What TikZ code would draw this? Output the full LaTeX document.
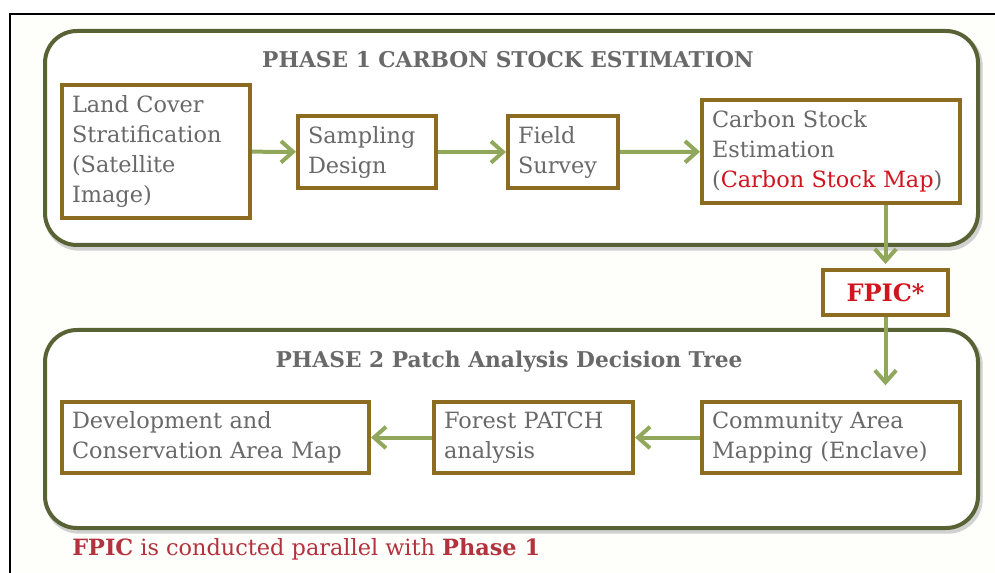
\documentclass[tikz,border=0pt]{standalone}
\usepackage{fontspec}
\setmainfont{DejaVu Serif}
\usetikzlibrary{arrows.meta}
\definecolor{boxbrd}{RGB}{140,108,32}
\definecolor{phasebrd}{RGB}{88,98,52}
\definecolor{arrowgr}{RGB}{145,168,92}
\definecolor{txtgray}{RGB}{105,105,105}
\definecolor{fpicred}{RGB}{210,20,30}
\definecolor{footred}{RGB}{178,50,62}
\definecolor{bgcream}{RGB}{254,254,250}
\begin{document}
\begin{tikzpicture}[x=0.75pt,y=-0.75pt,
  stepbox/.style={draw=boxbrd,line width=3pt,fill=white,text=txtgray,
    font=\fontsize{16.8}{22.5}\selectfont,align=left,inner xsep=7pt,inner ysep=0pt,
    anchor=center},
  phasebox/.style={draw=phasebrd,line width=3pt,rounded corners=24pt},
  flow/.style={draw=arrowgr,line width=3pt,-{Straight Barb[length=9pt,width=16pt,line width=3pt]}},
  ttl/.style={text=txtgray,font=\fontsize{16.3}{19}\selectfont\bfseries,anchor=base}
]
\useasboundingbox (0,0) rectangle (995,573);
\fill[white] (0,0) rectangle (995,573);
\fill[bgcream] (10,14) rectangle (995,573);
% frame
\draw[line width=2.2pt,black] (10,573) -- (10,14) -- (995,14);
% shadows
\draw[black!18,line width=4pt,rounded corners=24pt] (47,34) rectangle (980,248);
\draw[black!18,line width=4pt,rounded corners=24pt] (47,333) rectangle (980,531);
% phase boxes
\draw[phasebox,fill=white] (45,31) rectangle (978,245);
\draw[phasebox,fill=white] (45,330) rectangle (978,528);
\node[ttl] (t1) at (508,68) {PHASE 1 CARBON STOCK ESTIMATION};
\node[ttl] (t2) at (509,367) {PHASE 2 Patch Analysis Decision Tree};
% phase 1 nodes
\node[stepbox,minimum width=141pt,minimum height=99.75pt,text width=126pt] (b1) at (156,151.5)
  {Land Cover\\Stratification\\(Satellite\\Image)};
\node[stepbox,minimum width=103.5pt,minimum height=54pt,text width=88.5pt] (b2) at (367,152)
  {Sampling\\Design};
\node[stepbox,minimum width=82.5pt,minimum height=54pt,text width=67.5pt] (b3) at (563,152)
  {Field\\Survey};
\node[stepbox,minimum width=193.5pt,minimum height=77.25pt,text width=178.5pt] (b4) at (831,151.5)
  {Carbon Stock\\Estimation\\(\textcolor{fpicred}{Carbon Stock Map})};
% FPIC
\node[stepbox,minimum width=93.75pt,minimum height=33.75pt,text width=78.75pt,align=center,
  text=fpicred,font=\fontsize{18}{20}\selectfont\bfseries] (fpic) at (885.5,292.5) {FPIC*};
% phase 2 nodes
\node[stepbox,minimum width=230.25pt,minimum height=53.25pt,text width=215.25pt] (d1) at (215.5,437.5)
  {Development and\\Conservation Area Map};
\node[stepbox,minimum width=149.25pt,minimum height=53.25pt,text width=134.25pt] (d2) at (533.5,437.5)
  {Forest PATCH\\analysis};
\node[stepbox,minimum width=193.5pt,minimum height=53.25pt,text width=178.5pt] (d3) at (831,437.5)
  {Community Area\\Mapping (Enclave)};
% arrows
\draw[flow] (b1) -- (b2);
\draw[flow] (b2) -- (b3);
\draw[flow] (b3) -- (b4);
\draw[flow,shorten >=3pt] (b4.south -| fpic.north) -- (fpic.north);
\draw[flow,shorten >=11pt] (fpic.south) -- (fpic.south |- d3.north);
\draw[flow] (d3) -- (d2);
\draw[flow] (d2) -- (d1);
% footer
\node[anchor=base west,text=footred,font=\fontsize{16.8}{19}\selectfont,inner sep=0pt] (foot) at (72,555)
  {\textbf{FPIC} is conducted parallel with \textbf{Phase 1}};
\end{tikzpicture}
\end{document}
